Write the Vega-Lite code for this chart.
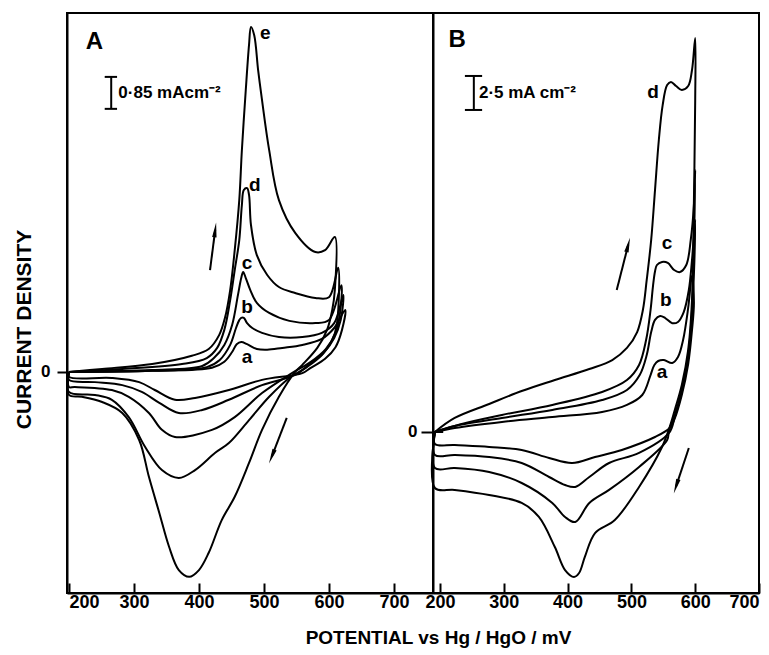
{
"$schema": "https://vega.github.io/schema/vega-lite/v6.json",
"padding": {"left": 12, "top": 12, "right": 8, "bottom": 5},
"bounds": "flush",
"spacing": 0,
"config": {
  "view": {"stroke": "black", "strokeWidth": 2},
  "axis": {"domainColor": "black", "domainWidth": 2, "tickColor": "black", "tickWidth": 2, "labelColor": "black", "labelFont": "Liberation Sans", "labelFontWeight": "bold", "labelFontSize": 18, "grid": false, "titleColor": "black", "titleFont": "Liberation Sans", "titleFontWeight": "bold"},
  "text": {"font": "Liberation Sans", "fontWeight": "bold", "color": "black"}
},
"datasets": {
  "A": [
    {"c":"e","i":1,"x":200,"y":0},{"c":"e","i":2,"x":251,"y":0.08},{"c":"e","i":3,"x":328,"y":0.21},{"c":"e","i":4,"x":389,"y":0.43},{"c":"e","i":5,"x":415,"y":0.61},{"c":"e","i":6,"x":431,"y":0.98},{"c":"e","i":7,"x":440,"y":1.44},{"c":"e","i":8,"x":448,"y":2.18},{"c":"e","i":9,"x":455,"y":3.24},{"c":"e","i":10,"x":462,"y":4.57},{"c":"e","i":11,"x":466,"y":5.90},{"c":"e","i":12,"x":472,"y":7.50},{"c":"e","i":13,"x":477,"y":8.70},{"c":"e","i":14,"x":480,"y":9.18},{"c":"e","i":15,"x":485,"y":8.96},{"c":"e","i":16,"x":491,"y":8.03},{"c":"e","i":17,"x":497,"y":7.23},{"c":"e","i":18,"x":508,"y":5.90},{"c":"e","i":19,"x":523,"y":4.57},{"c":"e","i":20,"x":548,"y":3.70},{"c":"e","i":21,"x":579,"y":3.19},{"c":"e","i":22,"x":594,"y":3.24},{"c":"e","i":23,"x":609,"y":3.59},{"c":"e","i":24,"x":609,"y":2.18},{"c":"e","i":25,"x":605,"y":1.65},{"c":"e","i":26,"x":597,"y":1.12},{"c":"e","i":27,"x":582,"y":0.64},{"c":"e","i":28,"x":559,"y":0.19},{"c":"e","i":29,"x":548,"y":0},{"c":"e","i":30,"x":523,"y":-0.66},{"c":"e","i":31,"x":497,"y":-1.54},{"c":"e","i":32,"x":477,"y":-2.42},{"c":"e","i":33,"x":455,"y":-3.32},{"c":"e","i":34,"x":435,"y":-3.94},{"c":"e","i":35,"x":415,"y":-4.81},{"c":"e","i":36,"x":400,"y":-5.27},{"c":"e","i":37,"x":385,"y":-5.45},{"c":"e","i":38,"x":369,"y":-5.27},{"c":"e","i":39,"x":354,"y":-4.65},{"c":"e","i":40,"x":339,"y":-3.75},{"c":"e","i":41,"x":323,"y":-2.79},{"c":"e","i":42,"x":308,"y":-1.81},{"c":"e","i":43,"x":282,"y":-1.09},{"c":"e","i":44,"x":251,"y":-0.80},{"c":"e","i":45,"x":220,"y":-0.66},{"c":"e","i":46,"x":200,"y":-0.61},{"c":"e","i":47,"x":200,"y":0},
    {"c":"d","i":1,"x":200,"y":0},{"c":"d","i":2,"x":282,"y":0.08},{"c":"d","i":3,"x":374,"y":0.21},{"c":"d","i":4,"x":412,"y":0.37},{"c":"d","i":5,"x":428,"y":0.64},{"c":"d","i":6,"x":439,"y":1.12},{"c":"d","i":7,"x":448,"y":1.91},{"c":"d","i":8,"x":455,"y":2.71},{"c":"d","i":9,"x":462,"y":3.51},{"c":"d","i":10,"x":466,"y":4.44},{"c":"d","i":11,"x":469,"y":4.84},{"c":"d","i":12,"x":474,"y":4.89},{"c":"d","i":13,"x":477,"y":4.71},{"c":"d","i":14,"x":480,"y":3.91},{"c":"d","i":15,"x":489,"y":3.11},{"c":"d","i":16,"x":505,"y":2.58},{"c":"d","i":17,"x":523,"y":2.26},{"c":"d","i":18,"x":548,"y":2.10},{"c":"d","i":19,"x":579,"y":1.97},{"c":"d","i":20,"x":600,"y":1.99},{"c":"d","i":21,"x":614,"y":2.77},{"c":"d","i":22,"x":612,"y":1.25},{"c":"d","i":23,"x":605,"y":0.85},{"c":"d","i":24,"x":589,"y":0.45},{"c":"d","i":25,"x":566,"y":0.13},{"c":"d","i":26,"x":539,"y":-0.16},{"c":"d","i":27,"x":508,"y":-0.66},{"c":"d","i":28,"x":477,"y":-1.28},{"c":"d","i":29,"x":446,"y":-1.89},{"c":"d","i":30,"x":425,"y":-2.15},{"c":"d","i":31,"x":394,"y":-2.61},{"c":"d","i":32,"x":369,"y":-2.82},{"c":"d","i":33,"x":343,"y":-2.61},{"c":"d","i":34,"x":317,"y":-1.99},{"c":"d","i":35,"x":292,"y":-1.20},{"c":"d","i":36,"x":266,"y":-0.74},{"c":"d","i":37,"x":240,"y":-0.61},{"c":"d","i":38,"x":200,"y":-0.53},{"c":"d","i":39,"x":200,"y":0},
    {"c":"c","i":1,"x":200,"y":0},{"c":"c","i":2,"x":328,"y":0.05},{"c":"c","i":3,"x":405,"y":0.16},{"c":"c","i":4,"x":423,"y":0.37},{"c":"c","i":5,"x":439,"y":0.72},{"c":"c","i":6,"x":451,"y":1.25},{"c":"c","i":7,"x":460,"y":2.05},{"c":"c","i":8,"x":465,"y":2.50},{"c":"c","i":9,"x":468,"y":2.66},{"c":"c","i":10,"x":472,"y":2.50},{"c":"c","i":11,"x":479,"y":2.18},{"c":"c","i":12,"x":489,"y":1.84},{"c":"c","i":13,"x":508,"y":1.57},{"c":"c","i":14,"x":539,"y":1.36},{"c":"c","i":15,"x":579,"y":1.30},{"c":"c","i":16,"x":600,"y":1.38},{"c":"c","i":17,"x":619,"y":2.31},{"c":"c","i":18,"x":617,"y":1.57},{"c":"c","i":19,"x":610,"y":1.04},{"c":"c","i":20,"x":595,"y":0.61},{"c":"c","i":21,"x":572,"y":0.27},{"c":"c","i":22,"x":543,"y":-0.03},{"c":"c","i":23,"x":497,"y":-0.56},{"c":"c","i":24,"x":455,"y":-1.20},{"c":"c","i":25,"x":420,"y":-1.54},{"c":"c","i":26,"x":363,"y":-1.73},{"c":"c","i":27,"x":343,"y":-1.54},{"c":"c","i":28,"x":323,"y":-1.09},{"c":"c","i":29,"x":292,"y":-0.66},{"c":"c","i":30,"x":266,"y":-0.48},{"c":"c","i":31,"x":209,"y":-0.40},{"c":"c","i":32,"x":200,"y":-0.40},{"c":"c","i":33,"x":200,"y":0},
    {"c":"b","i":1,"x":200,"y":0},{"c":"b","i":2,"x":328,"y":0.03},{"c":"b","i":3,"x":412,"y":0.13},{"c":"b","i":4,"x":432,"y":0.32},{"c":"b","i":5,"x":448,"y":0.72},{"c":"b","i":6,"x":457,"y":1.17},{"c":"b","i":7,"x":462,"y":1.38},{"c":"b","i":8,"x":465,"y":1.44},{"c":"b","i":9,"x":469,"y":1.44},{"c":"b","i":10,"x":474,"y":1.30},{"c":"b","i":11,"x":482,"y":1.17},{"c":"b","i":12,"x":497,"y":1.04},{"c":"b","i":13,"x":523,"y":0.93},{"c":"b","i":14,"x":559,"y":0.93},{"c":"b","i":15,"x":589,"y":1.04},{"c":"b","i":16,"x":608,"y":1.30},{"c":"b","i":17,"x":622,"y":2.05},{"c":"b","i":18,"x":618,"y":1.38},{"c":"b","i":19,"x":608,"y":0.90},{"c":"b","i":20,"x":592,"y":0.51},{"c":"b","i":21,"x":570,"y":0.21},{"c":"b","i":22,"x":548,"y":-0.08},{"c":"b","i":23,"x":497,"y":-0.35},{"c":"b","i":24,"x":446,"y":-0.74},{"c":"b","i":25,"x":405,"y":-1.01},{"c":"b","i":26,"x":369,"y":-1.09},{"c":"b","i":27,"x":339,"y":-0.82},{"c":"b","i":28,"x":312,"y":-0.53},{"c":"b","i":29,"x":282,"y":-0.35},{"c":"b","i":30,"x":240,"y":-0.27},{"c":"b","i":31,"x":200,"y":-0.21},{"c":"b","i":32,"x":200,"y":0},
    {"c":"a","i":1,"x":200,"y":0},{"c":"a","i":2,"x":328,"y":0.03},{"c":"a","i":3,"x":420,"y":0.11},{"c":"a","i":4,"x":439,"y":0.27},{"c":"a","i":5,"x":451,"y":0.53},{"c":"a","i":6,"x":458,"y":0.74},{"c":"a","i":7,"x":465,"y":0.80},{"c":"a","i":8,"x":474,"y":0.74},{"c":"a","i":9,"x":489,"y":0.61},{"c":"a","i":10,"x":505,"y":0.59},{"c":"a","i":11,"x":528,"y":0.64},{"c":"a","i":12,"x":559,"y":0.72},{"c":"a","i":13,"x":589,"y":0.88},{"c":"a","i":14,"x":608,"y":1.17},{"c":"a","i":15,"x":625,"y":1.65},{"c":"a","i":16,"x":620,"y":1.12},{"c":"a","i":17,"x":610,"y":0.66},{"c":"a","i":18,"x":594,"y":0.35},{"c":"a","i":19,"x":572,"y":0.11},{"c":"a","i":20,"x":559,"y":-0.03},{"c":"a","i":21,"x":497,"y":-0.21},{"c":"a","i":22,"x":446,"y":-0.48},{"c":"a","i":23,"x":394,"y":-0.69},{"c":"a","i":24,"x":363,"y":-0.74},{"c":"a","i":25,"x":332,"y":-0.48},{"c":"a","i":26,"x":308,"y":-0.27},{"c":"a","i":27,"x":266,"y":-0.16},{"c":"a","i":28,"x":200,"y":-0.13},{"c":"a","i":29,"x":200,"y":0}
  ],
  "B": [
    {"c":"d","i":1,"x":192,"y":0},{"c":"d","i":2,"x":223,"y":1.03},{"c":"d","i":3,"x":277,"y":2.06},{"c":"d","i":4,"x":328,"y":3.01},{"c":"d","i":5,"x":380,"y":3.82},{"c":"d","i":6,"x":434,"y":4.63},{"c":"d","i":7,"x":470,"y":5.29},{"c":"d","i":8,"x":493,"y":6.18},{"c":"d","i":9,"x":509,"y":7.35},{"c":"d","i":10,"x":518,"y":8.97},{"c":"d","i":11,"x":524,"y":11.18},{"c":"d","i":12,"x":531,"y":14.12},{"c":"d","i":13,"x":537,"y":17.79},{"c":"d","i":14,"x":543,"y":21.47},{"c":"d","i":15,"x":549,"y":24.04},{"c":"d","i":16,"x":556,"y":25.51},{"c":"d","i":17,"x":562,"y":25.74},{"c":"d","i":18,"x":570,"y":25.44},{"c":"d","i":19,"x":579,"y":25.15},{"c":"d","i":20,"x":589,"y":25.44},{"c":"d","i":21,"x":595,"y":26.62},{"c":"d","i":22,"x":600,"y":28.97},{"c":"d","i":23,"x":600,"y":24.41},{"c":"d","i":24,"x":598,"y":17.06},{"c":"d","i":25,"x":595,"y":9.71},{"c":"d","i":26,"x":589,"y":6.03},{"c":"d","i":27,"x":579,"y":3.46},{"c":"d","i":28,"x":568,"y":1.62},{"c":"d","i":29,"x":560,"y":0.37},{"c":"d","i":30,"x":548,"y":-1.10},{"c":"d","i":31,"x":512,"y":-4.04},{"c":"d","i":32,"x":474,"y":-6.47},{"c":"d","i":33,"x":443,"y":-7.43},{"c":"d","i":34,"x":427,"y":-9.19},{"c":"d","i":35,"x":418,"y":-10.37},{"c":"d","i":36,"x":410,"y":-10.66},{"c":"d","i":37,"x":396,"y":-10.15},{"c":"d","i":38,"x":380,"y":-8.46},{"c":"d","i":39,"x":355,"y":-6.25},{"c":"d","i":40,"x":328,"y":-5.22},{"c":"d","i":41,"x":277,"y":-4.63},{"c":"d","i":42,"x":223,"y":-4.26},{"c":"d","i":43,"x":192,"y":-4.12},{"c":"d","i":44,"x":192,"y":0},
    {"c":"c","i":1,"x":192,"y":0},{"c":"c","i":2,"x":234,"y":0.59},{"c":"c","i":3,"x":297,"y":1.25},{"c":"c","i":4,"x":376,"y":1.99},{"c":"c","i":5,"x":454,"y":2.94},{"c":"c","i":6,"x":493,"y":3.82},{"c":"c","i":7,"x":512,"y":4.93},{"c":"c","i":8,"x":523,"y":6.76},{"c":"c","i":9,"x":530,"y":8.97},{"c":"c","i":10,"x":534,"y":10.80},{"c":"c","i":11,"x":537,"y":11.80},{"c":"c","i":12,"x":540,"y":12.28},{"c":"c","i":13,"x":548,"y":12.50},{"c":"c","i":14,"x":557,"y":12.43},{"c":"c","i":15,"x":567,"y":11.91},{"c":"c","i":16,"x":576,"y":11.76},{"c":"c","i":17,"x":586,"y":12.28},{"c":"c","i":18,"x":593,"y":14.12},{"c":"c","i":19,"x":598,"y":16.69},{"c":"c","i":20,"x":600,"y":19.26},{"c":"c","i":21,"x":599,"y":16.0},{"c":"c","i":22,"x":597,"y":12.0},{"c":"c","i":23,"x":595,"y":9.0},{"c":"c","i":24,"x":589,"y":5.66},{"c":"c","i":25,"x":579,"y":3.09},{"c":"c","i":26,"x":568,"y":1.25},{"c":"c","i":27,"x":559,"y":0.15},{"c":"c","i":28,"x":556,"y":-0.59},{"c":"c","i":29,"x":512,"y":-2.57},{"c":"c","i":30,"x":465,"y":-4.26},{"c":"c","i":31,"x":434,"y":-5.22},{"c":"c","i":32,"x":412,"y":-6.62},{"c":"c","i":33,"x":396,"y":-6.25},{"c":"c","i":34,"x":376,"y":-5.22},{"c":"c","i":35,"x":328,"y":-3.75},{"c":"c","i":36,"x":277,"y":-2.94},{"c":"c","i":37,"x":223,"y":-2.65},{"c":"c","i":38,"x":192,"y":-2.65},{"c":"c","i":39,"x":192,"y":0},
    {"c":"b","i":1,"x":192,"y":0},{"c":"b","i":2,"x":223,"y":0.44},{"c":"b","i":3,"x":297,"y":1.03},{"c":"b","i":4,"x":376,"y":1.62},{"c":"b","i":5,"x":454,"y":2.35},{"c":"b","i":6,"x":493,"y":3.09},{"c":"b","i":7,"x":513,"y":4.19},{"c":"b","i":8,"x":524,"y":5.66},{"c":"b","i":9,"x":531,"y":7.35},{"c":"b","i":10,"x":537,"y":8.24},{"c":"b","i":11,"x":545,"y":8.53},{"c":"b","i":12,"x":553,"y":8.38},{"c":"b","i":13,"x":564,"y":8.00},{"c":"b","i":14,"x":573,"y":8.09},{"c":"b","i":15,"x":582,"y":8.82},{"c":"b","i":16,"x":590,"y":10.44},{"c":"b","i":17,"x":595,"y":12.65},{"c":"b","i":18,"x":600,"y":15.59},{"c":"b","i":19,"x":599,"y":13.0},{"c":"b","i":20,"x":597,"y":10.5},{"c":"b","i":21,"x":595,"y":8.6},{"c":"b","i":22,"x":589,"y":5.51},{"c":"b","i":23,"x":579,"y":2.94},{"c":"b","i":24,"x":568,"y":1.10},{"c":"b","i":25,"x":559,"y":-0.07},{"c":"b","i":26,"x":512,"y":-1.54},{"c":"b","i":27,"x":465,"y":-2.28},{"c":"b","i":28,"x":434,"y":-3.31},{"c":"b","i":29,"x":412,"y":-4.04},{"c":"b","i":30,"x":396,"y":-3.90},{"c":"b","i":31,"x":371,"y":-3.31},{"c":"b","i":32,"x":328,"y":-2.28},{"c":"b","i":33,"x":277,"y":-1.84},{"c":"b","i":34,"x":223,"y":-1.69},{"c":"b","i":35,"x":192,"y":-1.69},{"c":"b","i":36,"x":192,"y":0},
    {"c":"a","i":1,"x":192,"y":0},{"c":"a","i":2,"x":223,"y":0.29},{"c":"a","i":3,"x":297,"y":0.74},{"c":"a","i":4,"x":376,"y":1.10},{"c":"a","i":5,"x":454,"y":1.47},{"c":"a","i":6,"x":493,"y":1.99},{"c":"a","i":7,"x":517,"y":2.72},{"c":"a","i":8,"x":530,"y":4.19},{"c":"a","i":9,"x":536,"y":4.93},{"c":"a","i":10,"x":542,"y":5.22},{"c":"a","i":11,"x":551,"y":5.29},{"c":"a","i":12,"x":564,"y":5.07},{"c":"a","i":13,"x":573,"y":5.51},{"c":"a","i":14,"x":581,"y":6.76},{"c":"a","i":15,"x":589,"y":9.12},{"c":"a","i":16,"x":595,"y":11.5},{"c":"a","i":17,"x":598,"y":9.5},{"c":"a","i":18,"x":595,"y":7.5},{"c":"a","i":19,"x":589,"y":5.0},{"c":"a","i":20,"x":579,"y":2.72},{"c":"a","i":21,"x":568,"y":1.0},{"c":"a","i":22,"x":560,"y":0.29},{"c":"a","i":23,"x":537,"y":-0.37},{"c":"a","i":24,"x":485,"y":-1.32},{"c":"a","i":25,"x":443,"y":-1.84},{"c":"a","i":26,"x":407,"y":-2.28},{"c":"a","i":27,"x":371,"y":-1.91},{"c":"a","i":28,"x":328,"y":-1.32},{"c":"a","i":29,"x":277,"y":-1.10},{"c":"a","i":30,"x":223,"y":-0.96},{"c":"a","i":31,"x":192,"y":-0.88},{"c":"a","i":32,"x":192,"y":0}
  ],
  "labA": [{"t":"e","x":502,"y":9.02},{"t":"d","x":486,"y":4.97},{"t":"c","x":474,"y":2.90},{"t":"b","x":474,"y":1.73},{"t":"a","x":474,"y":0.40}],
  "labB": [{"t":"d","x":534,"y":25.0},{"t":"c","x":556,"y":13.9},{"t":"b","x":554,"y":9.7},{"t":"a","x":548,"y":4.41}],
  "arrA": [{"id":"up","x":417,"y":2.71,"x2":425,"y2":3.78},{"id":"down","x":535,"y":-1.22,"x2":512,"y2":-2.25}],
  "arrB": [{"id":"up","x":477,"y":10.44,"x2":495,"y2":13.76},{"id":"down","x":590,"y":-1.18,"x2":570,"y2":-4.0}]
},
"hconcat": [
  {
    "width": 366, "height": 580,
    "layer": [
      {"data": {"name": "A"},
       "mark": {"type": "line", "color": "black", "strokeWidth": 2, "interpolate": "catmull-rom"},
       "encoding": {
         "x": {"field": "x", "type": "quantitative", "scale": {"domain": [197, 760], "nice": false, "zero": false},
               "axis": {"values": [200,300,400,500,600,700], "tickSize": -10, "labelPadding": 10, "labelFlush": 5, "title": "POTENTIAL vs Hg / HgO / mV", "titleFontSize": 19, "titleX": 371, "titleY": 44, "titleBaseline": "middle", "titleAnchor": "middle"}},
         "y": {"field": "y", "type": "quantitative", "scale": {"domain": [-5.88, 9.55], "nice": false, "zero": false},
               "axis": {"values": [0], "tickSize": 10, "labelPadding": 7, "labelFontSize": 17, "title": "CURRENT DENSITY", "titleFontSize": 21, "titleX": -43, "titleY": 316, "titleBaseline": "middle", "titleAngle": -90}},
         "detail": {"field": "c"},
         "order": {"field": "i"}
       }},
      {"data": {"name": "labA"}, "mark": {"type": "text", "fontSize": 19, "align": "center", "baseline": "middle"},
       "encoding": {"x": {"field": "x", "type": "quantitative"}, "y": {"field": "y", "type": "quantitative"}, "text": {"field": "t"}}},
      {"data": {"values": [{"t": "A", "x": 239, "y": 8.78}]}, "mark": {"type": "text", "fontSize": 24, "align": "center", "baseline": "middle"},
       "encoding": {"x": {"field": "x", "type": "quantitative"}, "y": {"field": "y", "type": "quantitative"}, "text": {"field": "t"}}},
      {"data": {"values": [{"t": "0·85 mAcm⁻²", "x": 276, "y": 7.42}]}, "mark": {"type": "text", "fontSize": 17, "align": "left", "baseline": "middle"},
       "encoding": {"x": {"field": "x", "type": "quantitative"}, "y": {"field": "y", "type": "quantitative"}, "text": {"field": "t"}}},
      {"data": {"values": [{"x": 265, "y": 7.0, "y2": 7.85}]}, "mark": {"type": "rule", "color": "black", "strokeWidth": 2},
       "encoding": {"x": {"field": "x", "type": "quantitative"}, "y": {"field": "y", "type": "quantitative"}, "y2": {"field": "y2"}}},
      {"data": {"values": [{"x": 255, "x2": 274, "y": 7.0}, {"x": 255, "x2": 274, "y": 7.85}]}, "mark": {"type": "rule", "color": "black", "strokeWidth": 2},
       "encoding": {"x": {"field": "x", "type": "quantitative"}, "x2": {"field": "x2"}, "y": {"field": "y", "type": "quantitative"}}},
      {"data": {"name": "arrA"}, "mark": {"type": "rule", "color": "black", "strokeWidth": 2},
       "encoding": {"x": {"field": "x", "type": "quantitative"}, "y": {"field": "y", "type": "quantitative"}, "x2": {"field": "x2"}, "y2": {"field": "y2"}}},
      {"data": {"name": "arrA"}, "transform": [{"filter": "datum.id == 'up'"}],
       "mark": {"type": "point", "shape": "M0,-1L0.3,1L-0.3,1Z", "filled": true, "color": "black", "opacity": 1, "size": 220, "angle": 7},
       "encoding": {"x": {"field": "x2", "type": "quantitative"}, "y": {"field": "y2", "type": "quantitative"}}},
      {"data": {"name": "arrA"}, "transform": [{"filter": "datum.id == 'down'"}],
       "mark": {"type": "point", "shape": "M0,-1L0.3,1L-0.3,1Z", "filled": true, "color": "black", "opacity": 1, "size": 220, "angle": 202},
       "encoding": {"x": {"field": "x2", "type": "quantitative"}, "y": {"field": "y2", "type": "quantitative"}}}
    ]
  },
  {
    "width": 326, "height": 580,
    "layer": [
      {"data": {"name": "B"},
       "mark": {"type": "line", "color": "black", "strokeWidth": 2, "interpolate": "catmull-rom"},
       "encoding": {
         "x": {"field": "x", "type": "quantitative", "scale": {"domain": [189, 700], "nice": false, "zero": false},
               "axis": {"values": [200,300,400,500,600,700], "tickSize": -10, "labelPadding": 10, "title": null}},
         "y": {"field": "y", "type": "quantitative", "scale": {"domain": [-11.84, 30.81], "nice": false, "zero": false},
               "axis": {"values": [0], "tickSize": 12, "labelPadding": 4, "labelFontSize": 17, "title": null}},
         "detail": {"field": "c"},
         "order": {"field": "i"}
       }},
      {"data": {"name": "labB"}, "mark": {"type": "text", "fontSize": 19, "align": "center", "baseline": "middle"},
       "encoding": {"x": {"field": "x", "type": "quantitative"}, "y": {"field": "y", "type": "quantitative"}, "text": {"field": "t"}}},
      {"data": {"values": [{"t": "B", "x": 227, "y": 28.82}]}, "mark": {"type": "text", "fontSize": 24, "align": "center", "baseline": "middle"},
       "encoding": {"x": {"field": "x", "type": "quantitative"}, "y": {"field": "y", "type": "quantitative"}, "text": {"field": "t"}}},
      {"data": {"values": [{"t": "2·5 mA cm⁻²", "x": 261, "y": 24.93}]}, "mark": {"type": "text", "fontSize": 17, "align": "left", "baseline": "middle"},
       "encoding": {"x": {"field": "x", "type": "quantitative"}, "y": {"field": "y", "type": "quantitative"}, "text": {"field": "t"}}},
      {"data": {"values": [{"x": 253, "y": 23.68, "y2": 26.18}]}, "mark": {"type": "rule", "color": "black", "strokeWidth": 2},
       "encoding": {"x": {"field": "x", "type": "quantitative"}, "y": {"field": "y", "type": "quantitative"}, "y2": {"field": "y2"}}},
      {"data": {"values": [{"x": 239, "x2": 266, "y": 23.68}, {"x": 239, "x2": 266, "y": 26.18}, {"x": 189, "x2": 205, "y": 0}]}, "mark": {"type": "rule", "color": "black", "strokeWidth": 2},
       "encoding": {"x": {"field": "x", "type": "quantitative"}, "x2": {"field": "x2"}, "y": {"field": "y", "type": "quantitative"}}},
      {"data": {"name": "arrB"}, "mark": {"type": "rule", "color": "black", "strokeWidth": 2},
       "encoding": {"x": {"field": "x", "type": "quantitative"}, "y": {"field": "y", "type": "quantitative"}, "x2": {"field": "x2"}, "y2": {"field": "y2"}}},
      {"data": {"name": "arrB"}, "transform": [{"filter": "datum.id == 'up'"}],
       "mark": {"type": "point", "shape": "M0,-1L0.3,1L-0.3,1Z", "filled": true, "color": "black", "opacity": 1, "size": 220, "angle": 14},
       "encoding": {"x": {"field": "x2", "type": "quantitative"}, "y": {"field": "y2", "type": "quantitative"}}},
      {"data": {"name": "arrB"}, "transform": [{"filter": "datum.id == 'down'"}],
       "mark": {"type": "point", "shape": "M0,-1L0.3,1L-0.3,1Z", "filled": true, "color": "black", "opacity": 1, "size": 220, "angle": 198},
       "encoding": {"x": {"field": "x2", "type": "quantitative"}, "y": {"field": "y2", "type": "quantitative"}}}
    ]
  }
]
}
